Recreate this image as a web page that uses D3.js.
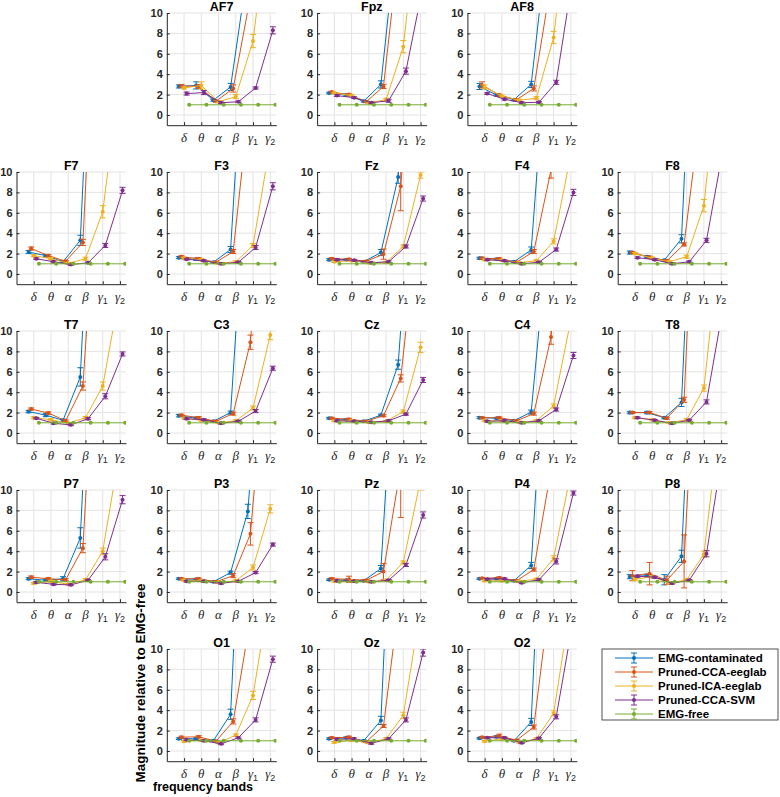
<!DOCTYPE html>
<html>
<head>
<meta charset="utf-8">
<script src="https://cdn.jsdelivr.net/npm/d3@7"></script>
<style>
  body { margin: 0; background: #fff; }
  text { font-family: 'Liberation Sans', Arial, sans-serif; }
</style>
</head>
<body>
<div id="chart"></div>
<script>
// channel order used by every data array below
const channels = ['AF7','Fpz','AF8','F7','F3','Fz','F4','F8','T7','C3','Cz','C4','T8',
                  'P7','P3','Pz','P4','P8','O1','Oz','O2'];
const gridLayout = [
  [null, 'AF7', 'Fpz', 'AF8', null],
  ['F7', 'F3', 'Fz', 'F4', 'F8'],
  ['T7', 'C3', 'Cz', 'C4', 'T8'],
  ['P7', 'P3', 'Pz', 'P4', 'P8'],
  [null, 'O1', 'Oz', 'O2', null]
];
const bands = ['δ','θ','α','β','γ1','γ2'];
const yTicks = [0, 2, 4, 6, 8, 10];
const seriesNames = ['EMG-contaminated','Pruned-CCA-eeglab','Pruned-ICA-eeglab','Pruned-CCA-SVM','EMG-free'];

// mean magnitude relative to EMG-free, per channel: [δ, θ, α, β, γ1, γ2]
const emgContaminated = [
  [2.8,2.9,1.45,2.75,14.4,40],[2.15,1.95,1.35,3.0,19,45],[2.8,1.95,1.5,3.0,18,45],
  [2.15,1.8,1.2,3.3,40,80],[1.6,1.45,1.15,2.4,30,60],[1.4,1.4,1.2,2.1,9.5,30],
  [1.55,1.45,1.2,2.35,25,50],[2.1,1.7,1.35,3.45,40,80],
  [2.1,1.75,1.25,5.5,40,80],[1.7,1.45,1.15,2.0,28,60],[1.45,1.3,1.15,1.75,6.7,30],
  [1.5,1.45,1.2,2.05,20,50],[2.0,2.0,1.5,3.0,40,80],
  [1.3,1.15,1.3,5.3,40,80],[1.3,1.25,1.0,1.9,7.9,30],[1.2,1.15,1.1,2.3,30,60],
  [1.3,1.3,1.1,2.6,30,60],[1.5,1.6,1.2,3.5,40,80],
  [1.2,1.2,1.0,3.6,40,80],[1.2,1.3,1.0,3.0,40,80],[1.25,1.4,1.0,2.85,40,80]
];
const emgContaminatedErr = [
  [0.15,0.35,0.1,0.35,1.2,2],[0.08,0.08,0.08,0.35,1,2],[0.3,0.1,0.1,0.3,1,2],
  [0.15,0.1,0.08,0.5,2,3],[0.1,0.1,0.08,0.3,2,3],[0.1,0.08,0.08,0.3,0.6,2],
  [0.1,0.1,0.08,0.3,2,3],[0.15,0.1,0.08,0.4,2,3],
  [0.12,0.15,0.1,0.9,2,3],[0.12,0.1,0.08,0.15,2,3],[0.08,0.08,0.08,0.1,0.45,2],
  [0.1,0.08,0.08,0.2,2,3],[0.12,0.12,0.1,0.4,2,3],
  [0.1,0.1,0.2,1.0,2,3],[0.08,0.08,0.08,0.15,0.7,2],[0.08,0.08,0.08,0.3,2,3],
  [0.08,0.1,0.08,0.3,2,3],[0.2,0.15,0.5,0.6,2,3],
  [0.08,0.08,0.08,0.5,2,3],[0.08,0.08,0.08,0.4,2,3],[0.08,0.1,0.08,0.35,2,3]
];
const prunedCcaEeglab = [
  [2.85,2.8,1.35,2.6,11.6,30],[2.25,2.0,1.3,2.8,18,40],[2.95,1.95,1.5,2.6,13,35],
  [2.5,1.8,1.25,3.1,38,70],[1.7,1.5,1.15,2.2,17.8,40],[1.5,1.45,1.25,1.95,8.6,30],
  [1.55,1.5,1.15,2.2,10.2,30],[2.1,1.65,1.3,2.9,16.6,40],
  [2.35,1.95,1.2,4.6,30,60],[1.75,1.5,1.15,1.9,8.9,30],[1.45,1.35,1.15,1.7,5.35,21],
  [1.5,1.5,1.2,1.9,9.4,30],[2.0,2.0,1.45,3.25,40,80],
  [1.45,1.3,1.2,4.3,35,70],[1.3,1.3,1.0,1.6,5.7,25],[1.3,1.25,1.15,2.0,12.3,35],
  [1.35,1.4,1.1,2.2,12,35],[1.6,1.8,1.15,3.0,35,70],
  [1.35,1.4,0.95,2.9,13,35],[1.3,1.35,0.9,2.45,16,40],[1.35,1.5,1.05,2.35,16,40]
];
const prunedCcaEeglabErr = [
  [0.15,0.2,0.1,0.35,1,2],[0.08,0.08,0.08,0.2,1,2],[0.3,0.1,0.1,0.25,1,2],
  [0.15,0.12,0.08,0.3,2,3],[0.1,0.1,0.08,0.2,1,2],[0.1,0.08,0.08,0.5,2.4,2],
  [0.1,0.08,0.08,0.2,0.8,2],[0.1,0.1,0.08,0.15,1,2],
  [0.1,0.12,0.08,0.4,2,3],[0.1,0.1,0.08,0.15,0.7,2],[0.08,0.08,0.08,0.1,0.35,1],
  [0.08,0.08,0.08,0.15,0.7,2],[0.1,0.1,0.1,0.25,2,3],
  [0.12,0.1,0.1,0.45,2,3],[0.08,0.08,0.08,0.2,1.1,2],[0.1,0.3,0.08,0.8,5,3],
  [0.08,0.08,0.08,0.15,1,2],[0.5,1.1,0.4,2.6,2,3],
  [0.1,0.1,0.08,0.25,1,2],[0.08,0.1,0.08,0.15,1,2],[0.08,0.15,0.08,0.2,1,2]
];
const prunedIcaEeglab = [
  [2.65,2.9,1.3,1.8,7.25,21],[2.15,1.9,1.2,1.5,6.7,22],[2.75,1.85,1.45,1.65,7.6,22],
  [1.8,1.5,1.05,1.5,6.1,19.5],[1.55,1.4,1.05,1.2,2.8,12.8],[1.2,1.3,1.1,1.15,2.7,9.7],
  [1.4,1.35,1.1,1.3,3.2,11.7],[2.0,1.55,1.2,1.7,6.7,23],
  [1.5,1.3,0.95,1.5,4.6,13.9],[1.45,1.25,1.0,1.2,2.45,9.6],[1.2,1.2,1.05,1.15,2.1,8.4],
  [1.2,1.2,1.05,1.2,2.65,11.1],[1.5,1.3,1.0,1.3,4.4,20],
  [0.85,1.05,0.75,1.2,4.0,14],[1.15,1.1,0.95,1.1,2.4,8.15],[1.05,1.05,1.0,1.15,2.9,11],
  [1.1,1.1,1.05,1.25,3.3,11.7],[1.25,1.5,0.85,1.2,3.7,18],
  [0.95,1.05,0.8,1.55,5.45,15.8],[0.85,1.05,0.8,1.2,3.5,14],[0.95,1.2,0.85,1.2,3.7,14.5]
];
const prunedIcaEeglabErr = [
  [0.1,0.35,0.1,0.2,0.65,1],[0.08,0.08,0.08,0.15,0.6,1],[0.2,0.1,0.1,0.15,0.6,1],
  [0.1,0.1,0.08,0.15,0.6,1],[0.1,0.1,0.08,0.1,0.2,1],[0.08,0.08,0.08,0.08,0.15,0.3],
  [0.08,0.08,0.08,0.1,0.25,1],[0.1,0.1,0.08,0.15,0.6,1],
  [0.1,0.1,0.08,0.12,0.4,1],[0.08,0.08,0.08,0.08,0.2,0.45],[0.08,0.08,0.08,0.08,0.15,0.5],
  [0.08,0.08,0.08,0.08,0.2,1],[0.08,0.08,0.08,0.1,0.3,1],
  [0.08,0.08,0.08,0.12,0.3,1],[0.08,0.08,0.08,0.08,0.25,0.4],[0.08,0.08,0.08,0.08,0.15,1],
  [0.08,0.08,0.08,0.1,0.25,1],[0.15,0.1,0.08,0.1,0.3,1],
  [0.08,0.08,0.08,0.12,0.4,1],[0.08,0.08,0.08,0.1,0.3,1],[0.08,0.08,0.08,0.1,0.25,1]
];
const prunedCcaSvm = [
  [2.1,2.2,1.2,1.3,2.65,8.3],[1.9,1.7,1.2,1.4,4.3,12.7],[2.1,1.55,1.2,1.25,3.2,14],
  [1.5,1.2,0.92,1.1,2.8,8.2],[1.45,1.3,1.0,1.15,2.6,8.6],[1.4,1.35,1.1,1.2,2.7,7.4],
  [1.4,1.3,1.0,1.15,2.4,8.0],[1.6,1.4,1.0,1.2,3.3,12.6],
  [1.45,0.95,0.8,1.4,3.6,7.75],[1.4,1.3,0.95,1.15,2.15,6.35],[1.2,1.15,1.05,1.2,1.85,5.2],
  [1.15,1.2,1.0,1.2,2.3,7.6],[1.5,1.25,0.95,1.25,3.05,12.7],
  [0.95,0.75,0.7,1.15,3.45,9.05],[1.05,1.05,0.85,1.05,1.9,4.65],[1.1,1.05,1.0,1.15,2.65,7.55],
  [1.25,1.3,0.9,1.2,3.0,9.7],[1.55,1.45,0.85,1.15,3.75,14.5],
  [1.1,1.0,0.7,1.3,3.05,9.0],[1.15,1.2,0.75,1.2,3.05,9.65],[1.3,1.3,0.8,1.25,3.35,13]
];
const prunedCcaSvmErr = [
  [0.15,0.2,0.08,0.08,0.1,0.35],[0.08,0.08,0.08,0.15,0.3,1],[0.08,0.08,0.08,0.08,0.2,1],
  [0.08,0.08,0.08,0.08,0.2,0.3],[0.08,0.08,0.08,0.08,0.2,0.35],[0.08,0.08,0.08,0.08,0.15,0.25],
  [0.08,0.08,0.08,0.08,0.15,0.3],[0.08,0.08,0.08,0.08,0.2,1],
  [0.08,0.08,0.08,0.1,0.25,0.2],[0.08,0.08,0.08,0.08,0.15,0.2],[0.08,0.08,0.08,0.08,0.1,0.25],
  [0.08,0.08,0.08,0.08,0.15,0.3],[0.08,0.08,0.08,0.08,0.2,1],
  [0.08,0.08,0.08,0.08,0.3,0.4],[0.08,0.08,0.08,0.08,0.1,0.15],[0.08,0.08,0.08,0.08,0.15,0.3],
  [0.08,0.08,0.08,0.08,0.25,0.2],[0.1,0.1,0.08,0.08,0.3,1],
  [0.08,0.08,0.08,0.08,0.2,0.3],[0.08,0.08,0.08,0.08,0.2,0.35],[0.08,0.08,0.08,0.08,0.2,1]
];
// reference is always 1
const emgFree = [1, 1, 1, 1, 1, 1];
const emgFreeErr = [0, 0, 0, 0, 0, 0];

const colors = ['#0072BD', '#D95319', '#EDB120', '#7E2F8E', '#77AC30'];
const dodge = [-0.3, -0.15, 0, 0.15, 0.3];

const width = 780, height = 797;
const W = 109.5, H = 112.2;
const left0 = 16.5, colStep = 150.3, top0 = 13, rowStep = 159;

const svg = d3.select('#chart').append('svg').attr('width', width).attr('height', height);
svg.append('defs').append('clipPath').attr('id', 'plotclip')
  .append('rect').attr('x', 0).attr('y', 0).attr('width', W).attr('height', H);

const x = d3.scaleLinear().domain([0, 6.35]).range([0, W]);
const y = d3.scaleLinear().domain([-1, 10]).range([H, 0]);
const line = d3.line().x(d => x(d.x)).y(d => y(d.v));

function seriesFor(ci) {
  return [
    { v: emgContaminated[ci], e: emgContaminatedErr[ci] },
    { v: prunedCcaEeglab[ci], e: prunedCcaEeglabErr[ci] },
    { v: prunedIcaEeglab[ci], e: prunedIcaEeglabErr[ci] },
    { v: prunedCcaSvm[ci], e: prunedCcaSvmErr[ci] },
    { v: emgFree, e: emgFreeErr }
  ];
}

gridLayout.forEach((row, r) => row.forEach((ch, c) => {
  if (!ch) return;
  const ci = channels.indexOf(ch);
  const g = svg.append('g').attr('transform', `translate(${left0 + c * colStep},${top0 + r * rowStep})`);

  // grid
  g.append('g').selectAll('line').data(d3.range(1, bands.length + 1)).join('line')
    .attr('x1', d => x(d)).attr('x2', d => x(d)).attr('y1', 0).attr('y2', H)
    .attr('stroke', '#e3e3e3').attr('stroke-width', 1);
  g.append('g').selectAll('line').data(yTicks).join('line')
    .attr('x1', 0).attr('x2', W).attr('y1', d => y(d)).attr('y2', d => y(d))
    .attr('stroke', '#e3e3e3').attr('stroke-width', 1);

  // axes
  const ya = g.append('g')
    .call(d3.axisLeft(y).tickValues(yTicks).tickSizeInner(-3).tickSizeOuter(0).tickPadding(4));
  ya.selectAll('text').style('font-size', '11px').style('font-weight', 'bold').attr('fill', '#262626');
  const xa = g.append('g').attr('transform', `translate(0,${H})`)
    .call(d3.axisBottom(x).tickValues(d3.range(1, bands.length + 1)).tickSizeInner(-3).tickSizeOuter(0).tickFormat(''));
  [ya, xa].forEach(a => { a.select('.domain').attr('stroke', '#262626'); a.selectAll('line').attr('stroke', '#262626'); });

  bands.forEach((b, i) => {
    const t = g.append('text').attr('x', x(i + 1)).attr('y', H + 17)
      .attr('text-anchor', 'middle').attr('fill', '#262626');
    t.append('tspan').text(b[0])
      .style('font-family', "'Liberation Serif', 'Times New Roman', serif")
      .style('font-style', 'italic').style('font-size', '13px');
    if (b.length > 1) {
      t.append('tspan').text(b.slice(1)).attr('dy', 3).style('font-size', '9px');
    }
  });

  g.append('text').attr('x', W / 2).attr('y', -1.6).attr('text-anchor', 'middle')
    .style('font-size', '12.5px').style('font-weight', 'bold').attr('fill', '#000').text(ch);

  const plot = g.append('g').attr('clip-path', 'url(#plotclip)');
  seriesFor(ci).forEach((s, si) => {
    const pts = s.v.map((v, i) => ({ x: i + 1 + dodge[si], v, e: s.e[i] }));
    const sg = plot.append('g');
    sg.append('path').datum(pts).attr('d', line)
      .attr('fill', 'none').attr('stroke', colors[si]).attr('stroke-width', 1);
    const eb = sg.selectAll('g.eb').data(pts.filter(p => p.e > 0)).join('g');
    eb.append('line').attr('x1', d => x(d.x)).attr('x2', d => x(d.x))
      .attr('y1', d => y(d.v - d.e)).attr('y2', d => y(d.v + d.e))
      .attr('stroke', colors[si]).attr('stroke-width', 1);
    [-1, 1].forEach(k => eb.append('line')
      .attr('x1', d => x(d.x) - 3).attr('x2', d => x(d.x) + 3)
      .attr('y1', d => y(d.v + k * d.e)).attr('y2', d => y(d.v + k * d.e))
      .attr('stroke', colors[si]).attr('stroke-width', 1));
    sg.selectAll('circle').data(pts).join('circle')
      .attr('cx', d => x(d.x)).attr('cy', d => y(d.v)).attr('r', 2)
      .attr('fill', colors[si]);
  });
}));

// axis titles
svg.append('text').attr('transform', 'translate(145,683) rotate(-90)')
  .attr('text-anchor', 'middle').style('font-size', '13.5px').style('font-weight', 'bold')
  .attr('fill', '#000').text('Magnitude relative to EMG-free');
svg.append('text').attr('x', 203).attr('y', 791).attr('text-anchor', 'middle')
  .style('font-size', '12.5px').style('font-weight', 'bold').attr('fill', '#000').text('frequency bands');

// legend
const lg = svg.append('g').attr('transform', 'translate(602,649)');
lg.append('rect').attr('width', 176).attr('height', 71)
  .attr('fill', '#fff').attr('stroke', '#262626').attr('stroke-width', 0.8);
seriesNames.forEach((name, i) => {
  const it = lg.append('g').attr('transform', `translate(0,${9 + i * 14})`);
  it.append('line').attr('x1', 13).attr('x2', 51).attr('y1', 0).attr('y2', 0).attr('stroke', colors[i]);
  it.append('line').attr('x1', 32).attr('x2', 32).attr('y1', -5).attr('y2', 5).attr('stroke', colors[i]);
  it.append('line').attr('x1', 29).attr('x2', 35).attr('y1', -5).attr('y2', -5).attr('stroke', colors[i]);
  it.append('line').attr('x1', 29).attr('x2', 35).attr('y1', 5).attr('y2', 5).attr('stroke', colors[i]);
  it.append('circle').attr('cx', 32).attr('cy', 0).attr('r', 2).attr('fill', colors[i]);
  it.append('text').attr('x', 56).attr('y', 4).style('font-size', '11.5px').style('font-weight', 'bold')
    .attr('fill', '#000').text(name);
});
</script>
</body>
</html>
